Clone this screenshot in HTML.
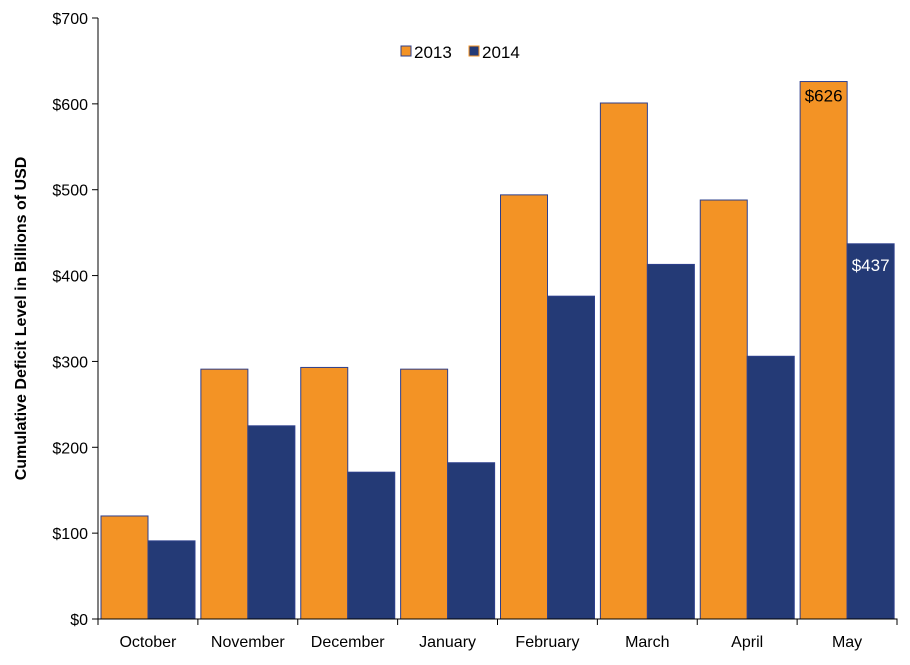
<!DOCTYPE html>
<html><head><meta charset="utf-8"><style>
body{margin:0;background:#fff;font-family:"Liberation Sans",sans-serif;}
</style></head><body>
<svg id="c" width="910" height="660" font-family="Liberation Sans, sans-serif"></svg>
<script>
const categories=["October","November","December","January","February","March","April","May"];
const values2013=[120,291,293,291,494,601,488,626];
const values2014=[91,225,171,182,376,413,306,437];
const yTicks=[0,100,200,300,400,500,600,700];
const tickLabels=["$0","$100","$200","$300","$400","$500","$600","$700"];
const NS="http://www.w3.org/2000/svg";
const svg=document.getElementById('c');
const L=98,R=897,T=18,B=619;
const y=v=>B-(v/700)*(B-T);
const cw=(R-L)/categories.length;
const x=i=>L+i*cw;
function mk(t,a,txt){const e=document.createElementNS(NS,t);for(const k in a)e.setAttribute(k,a[k]);if(txt!=null)e.textContent=txt;svg.appendChild(e);return e;}
yTicks.forEach((v,i)=>{
 const t=mk('line',{x1:L-6,x2:L,y1:y(v),y2:y(v),stroke:'#000'});
 
 
 const l=mk('text',{x:L-10,y:y(v)+6,'text-anchor':'end','font-size':16},tickLabels[i]);
 
 
});
categories.forEach((c,i)=>{
 const bw=47, x0=x(i)+3;
 const b1=mk('rect',{x:x0,y:y(values2013[i]),width:bw,height:B-y(values2013[i]),fill:'#f39325',stroke:'#2d3f8c','stroke-width':1});
 
 
 const b2=mk('rect',{x:x0+bw,y:y(values2014[i]),width:bw,height:B-y(values2014[i]),fill:'#243a76',stroke:'#2d3f8c','stroke-width':1});
 
 
 const tk=mk('line',{x1:x(i),x2:x(i),y1:B,y2:B+6,stroke:'#000'});
 
 
 const l=mk('text',{x:x(i)+cw/2,y:B+28,'text-anchor':'middle','font-size':16},c);
 
 
 if(i==categories.length-1){
  const a=mk('text',{x:x0+bw/2,y:y(values2013[i])+20,'text-anchor':'middle','font-size':17,fill:'#000'},'$'+values2013[i]);
  
  
  const b=mk('text',{x:x0+bw*1.5,y:y(values2014[i])+27,'text-anchor':'middle','font-size':17,fill:'#fff'},'$'+values2014[i]);
  
  
 }
});
const ax=mk('path',{d:`M${L},${T} V${B} H${R} V${B+6}`,stroke:'#000',fill:'none'});


const yt=mk('text',{x:0,y:0,transform:`translate(26,${(T+B)/2}) rotate(-90)`,'text-anchor':'middle','font-size':16,'font-weight':'bold'},'Cumulative Deficit Level in Billions of USD');


const lg1=mk('rect',{x:401,y:46,width:10,height:10,fill:'#f39325',stroke:'#2d3f8c'});


const lt1=mk('text',{x:414,y:58,'font-size':17},'2013');


const lg2=mk('rect',{x:469,y:46,width:10,height:10,fill:'#243a76',stroke:'#f39325'});


const lt2=mk('text',{x:482,y:58,'font-size':17},'2014');


</script>
</body></html>
